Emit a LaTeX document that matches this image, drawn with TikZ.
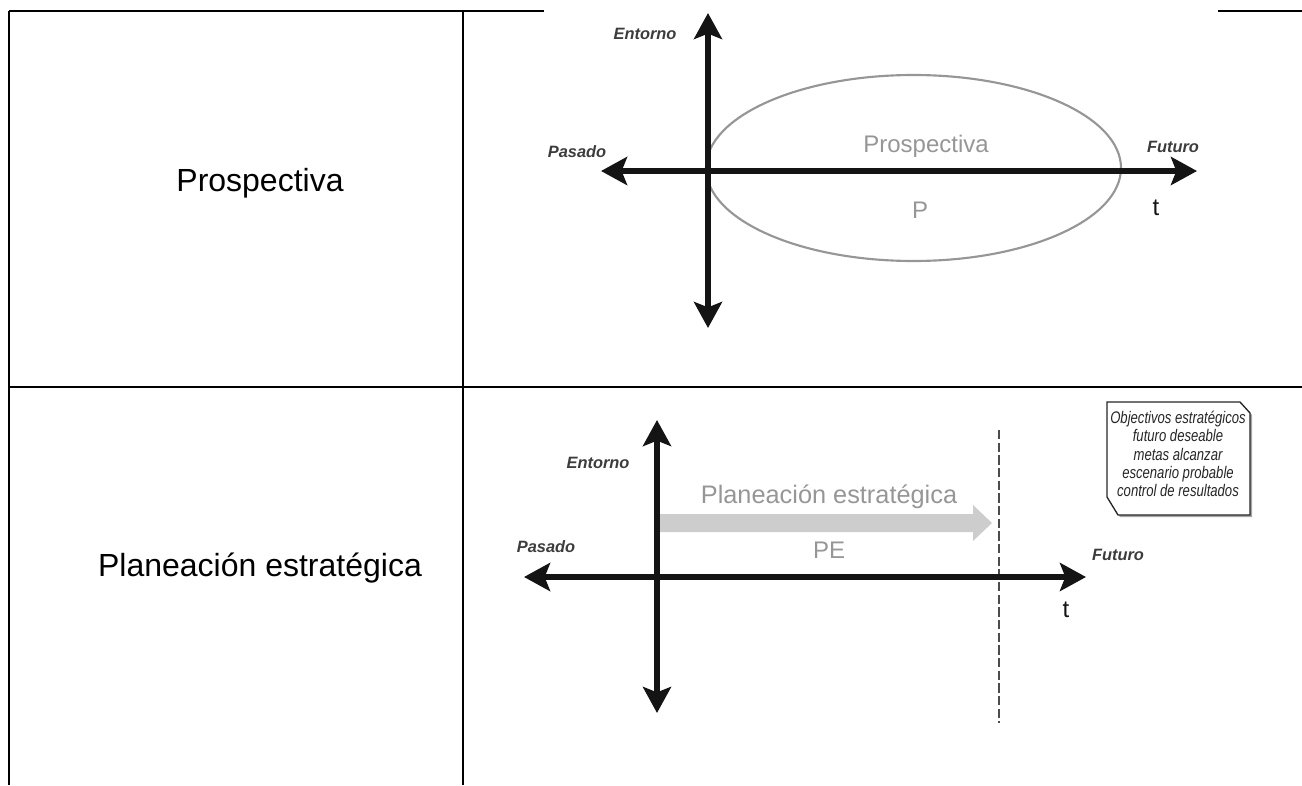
\documentclass[tikz,border=0pt]{standalone}
\usepackage{fontspec}
\setmainfont{Liberation Sans}
\newfontfamily\narrowfont[FakeStretch=0.78]{Liberation Sans}
\usetikzlibrary{arrows.meta}

\definecolor{rule}{RGB}{0,0,0}
\definecolor{axisblack}{RGB}{20,20,20}
\definecolor{softgray}{RGB}{150,150,150}
\definecolor{bandgray}{RGB}{205,205,205}
\definecolor{labelgray}{RGB}{60,60,60}

\tikzset{
  tablerule/.style={line width=1.5pt, draw=rule},
  axis/.style={draw=axisblack, line width=4.5pt,
    {Stealth[length=19.5pt, width=21pt, inset=4pt]}-{Stealth[length=19.5pt, width=21pt, inset=4pt]}},
  rowtitle/.style={inner sep=0pt, font=\fontsize{24pt}{28pt}\selectfont},
  axislabel/.style={inner sep=0pt, text=labelgray, font=\fontsize{12.3pt}{15pt}\selectfont\bfseries\itshape},
  graylabel/.style={inner sep=0pt, text=softgray, font=\fontsize{18pt}{21pt}\selectfont},
  tlabel/.style={inner sep=0pt, text=axisblack, font=\fontsize{18pt}{21pt}\selectfont},
  goalbox/.style={draw=black!85, line width=1pt, fill=white},
  goaltext/.style={inner sep=0pt, align=center, text=black!85,
    font=\narrowfont\fontsize{12.6pt}{13.7pt}\selectfont\itshape},
}

\begin{document}
\begin{tikzpicture}[x=0.75pt, y=-0.75pt]
  \useasboundingbox (0,0) rectangle (1302,785);

  % table frame
  \coordinate (tl) at (9,11);
  \coordinate (tcut1) at (544,11);
  \coordinate (tcut2) at (1218,11);
  \coordinate (tr) at (1302,11);
  \coordinate (bl) at (9,785);
  \coordinate (coltop) at (463,11);
  \coordinate (colbot) at (463,785);
  \coordinate (rowl) at (9,387);
  \coordinate (rowr) at (1302,387);
  \draw[tablerule] (tl) -- (tcut1);
  \draw[tablerule] (tcut2) -- (tr);
  \draw[tablerule] (tl) -- (bl);
  \draw[tablerule] (coltop) -- (colbot);
  \draw[tablerule] (rowl) -- (rowr);

  % row titles
  \node[rowtitle] (t1) at (260,183) {Prospectiva};
  \node[rowtitle] (t2) at (260,568) {Planeación estratégica};

  % ---------- Prospectiva panel ----------
  \coordinate (p-up) at (708,13);
  \coordinate (p-down) at (708,328);
  \coordinate (p-left) at (601,171);
  \coordinate (p-right) at (1197,171);
  \draw[softgray, line width=1.6pt] (913.5,168) ellipse [x radius=207.5, y radius=93];
  \draw[axis] (p-left) -- (p-right);
  \draw[axis, line width=4pt] (p-down) -- (p-up);

  \node[axislabel] (p-ent) at (645,34) {Entorno};
  \node[axislabel] (p-pas) at (577,152) {Pasado};
  \node[axislabel] (p-fut) at (1173,147) {Futuro};
  \node[graylabel] (p-name) at (926,146) {Prospectiva};
  \node[graylabel] (p-abbr) at (920,210) {P};
  \node[tlabel] (p-t) at (1156,208) {t};

  % ---------- Planeacion estrategica panel ----------
  \coordinate (e-up) at (657,420);
  \coordinate (e-down) at (657,713);
  \coordinate (e-left) at (524,577);
  \coordinate (e-right) at (1086,577);
  \coordinate (dash-top) at (999,430);
  \coordinate (dash-bot) at (999,723);

  % broad gray arrow of the planning horizon
  \fill[bandgray] (658,514) -- (973,514) -- (973,505) -- (992,523)
        -- (973,541) -- (973,532) -- (658,532) -- cycle;

  \draw[black!70, line width=0.8pt, dash pattern=on 7pt off 2.5pt] (dash-top) -- (dash-bot);
  \draw[axis, line width=4pt] (e-left) -- (e-right);
  \draw[axis, line width=4pt] (e-down) -- (e-up);

  \node[axislabel] (e-ent) at (598,463) {Entorno};
  \node[axislabel] (e-pas) at (546,547) {Pasado};
  \node[axislabel] (e-fut) at (1118,555) {Futuro};
  \node[graylabel, font=\fontsize{19pt}{22pt}\selectfont] (e-name) at (829,497) {Planeación estratégica};
  \node[graylabel] (e-abbr) at (829,550) {PE};
  \node[tlabel] (e-t) at (1066,610) {t};

  % goals box with clipped corners and a light shadow
  \fill[black!35] (1109,404) -- (1242,404) -- (1252,415) -- (1252,517)
        -- (1120,517) -- (1109,499) -- cycle;
  \draw[goalbox] (1107,402) -- (1240,402) -- (1250,413) -- (1250,515)
        -- (1118,515) -- (1107,497) -- cycle;
  \node[goaltext] (goals) at (1178,454)
    {Objectivos estratégicos\\futuro deseable\\metas alcanzar\\escenario probable\\control de resultados};
\end{tikzpicture}
\end{document}
